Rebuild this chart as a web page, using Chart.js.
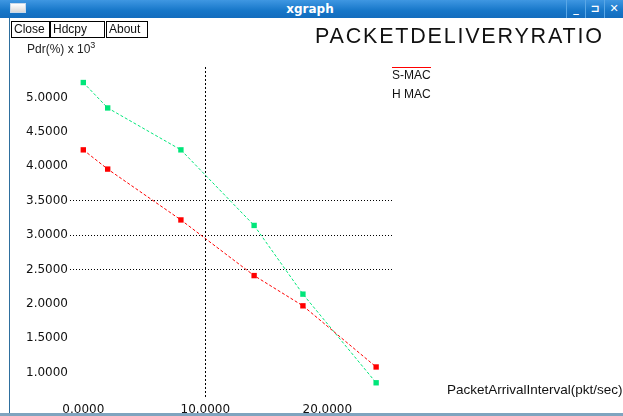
<!DOCTYPE html>
<html><head><meta charset="utf-8">
<script src="https://cdn.jsdelivr.net/npm/chart.js@4.4.0/dist/chart.umd.min.js"></script>
<style>
html,body{margin:0;padding:0;background:#fff;width:623px;height:416px;overflow:hidden;font-family:"Liberation Sans",Arial,sans-serif;}
#wrap{position:relative;width:623px;height:416px;}
canvas{position:absolute;left:0;top:0;}
.abs{position:absolute;z-index:3;white-space:nowrap;}
#titlebar{left:0;top:0;width:623px;height:18px;background:linear-gradient(#3f97e2,#1676c8 60%,#136cbd);}
#wtitle{left:0;top:2px;width:620px;text-align:center;color:#fff;font:bold 12px "DejaVu Sans",sans-serif;}
#icon{left:10px;top:3px;width:16px;height:10px;background:linear-gradient(#ffffff,#d8d8d8);border:1px solid #c9d9ea;box-sizing:border-box;}
.wbtn{top:0;height:18px;width:18px;color:#fff;font:bold 11px "DejaVu Sans",sans-serif;text-align:center;line-height:18px;border-left:1px solid #5aa7e6;}
#lborder{left:9px;top:18px;width:1px;height:396px;background:#2e6f9e;}
#bborder{left:0;top:413px;width:623px;height:3px;background:#7fa4bf;}
.btn{top:21px;height:17px;border:1px solid #000;box-sizing:border-box;font-size:12px;line-height:15px;padding:0 2px;color:#111;}
#ptitle{left:315px;top:24px;font-size:21.5px;letter-spacing:1.8px;color:#111;}
#ylab{left:27px;top:40px;font-size:12px;color:#222;}
#ylab sup{font-size:9px;vertical-align:5px;}
#xlab{left:447px;top:382px;font-size:13.5px;color:#111;}
.leg{left:392px;font-size:12px;color:#111;}
</style></head>
<body><div id="wrap">
<canvas id="c" width="623" height="416"></canvas>
<div class="abs" id="titlebar"></div>
<div class="abs" id="icon"></div>
<div class="abs" id="wtitle">xgraph</div>
<div class="abs wbtn" style="left:566px">_</div>
<div class="abs wbtn" style="left:585px">&#8848;</div>
<div class="abs wbtn" style="left:604px">&#10005;</div>
<div class="abs" id="lborder"></div>
<div class="abs btn" style="left:11px;width:39px">Close</div>
<div class="abs btn" style="left:50px;width:55px">Hdcpy</div>
<div class="abs btn" style="left:106px;width:42px">About</div>
<div class="abs" id="ptitle">PACKETDELIVERYRATIO</div>
<div class="abs" id="ylab">Pdr(%) x 10<sup>3</sup></div>
<div class="abs" id="xlab">PacketArrivalInterval(pkt/sec)</div>
<div id="legend"></div>
<div class="abs" id="bborder"></div>
</div>
<script>
const xValues = [0, 2, 8, 14, 18, 24];
const smacValues = [4.24, 3.96, 3.22, 2.41, 1.97, 1.08];
const hmacValues = [5.22, 4.85, 4.24, 3.14, 2.14, 0.85];
const seriesNames = ['S-MAC', 'H MAC'];
const seriesColors = ['#ff0000', '#00e67a'];
const xTicks = [0, 10, 20];
const yTicks = [1.0, 1.5, 2.0, 2.5, 3.0, 3.5, 4.0, 4.5, 5.0];
const xGridShown = [10];
const yGridShown = [2.5, 3.0, 3.5];

function pts(vals){ return xValues.map((x,i)=>({x:x, y:vals[i]})); }

const legend = document.getElementById('legend');
seriesNames.forEach((n,i)=>{
  const d = document.createElement('div');
  d.className = 'abs leg';
  d.style.top = (67 + i*19) + 'px';
  d.textContent = n;
  if (i === 0) d.style.borderTop = '1px solid ' + seriesColors[0];
  else d.style.paddingTop = '1px';
  legend.appendChild(d);
});

new Chart(document.getElementById('c'), {
  type: 'line',
  data: {
    datasets: [
      {label: seriesNames[0], data: pts(smacValues), borderColor: seriesColors[0], backgroundColor: seriesColors[0],
       borderWidth: 1, borderDash: [3,2], pointStyle: 'rect', pointRadius: 3.8, pointBorderWidth: 0, tension: 0},
      {label: seriesNames[1], data: pts(hmacValues), borderColor: seriesColors[1], backgroundColor: seriesColors[1],
       borderWidth: 1, borderDash: [3,2], pointStyle: 'rect', pointRadius: 3.8, pointBorderWidth: 0, tension: 0}
    ]
  },
  options: {
    responsive: false, animation: false,
    layout: {padding: {left: 0, right: 231, top: 67, bottom: 0}},
    plugins: {legend: {display: false}, title: {display: false}, tooltip: {enabled: false}},
    scales: {
      x: {
        type: 'linear', min: -1.09, max: 25.3,
        afterBuildTicks: s => { s.ticks = xTicks.map(v => ({value: v})); },
        afterFit: s => { s.height = 19; },
        ticks: {padding: 6, color: '#111', font: {family: 'DejaVu Sans', size: 12},
                callback: v => Number(v).toFixed(4), maxRotation: 0, autoSkip: false},
        grid: {drawTicks: false, lineWidth: 1,
               color: c => (c.tick && xGridShown.includes(c.tick.value)) ? '#000' : 'rgba(0,0,0,0)'},
        border: {display: false, dash: [2,2]}
      },
      y: {
        type: 'linear', min: 0.643, max: 5.446,
        afterBuildTicks: s => { s.ticks = yTicks.map(v => ({value: v})); },
        afterFit: s => { s.width = 70; },
        ticks: {padding: 2, color: '#111', font: {family: 'DejaVu Sans', size: 12},
                callback: v => Number(v).toFixed(4), autoSkip: false},
        grid: {drawTicks: false, lineWidth: 1,
               color: c => (c.tick && yGridShown.includes(c.tick.value)) ? '#000' : 'rgba(0,0,0,0)'},
        border: {display: false, dash: [1,2]}
      }
    }
  }
});
</script>
</body></html>
